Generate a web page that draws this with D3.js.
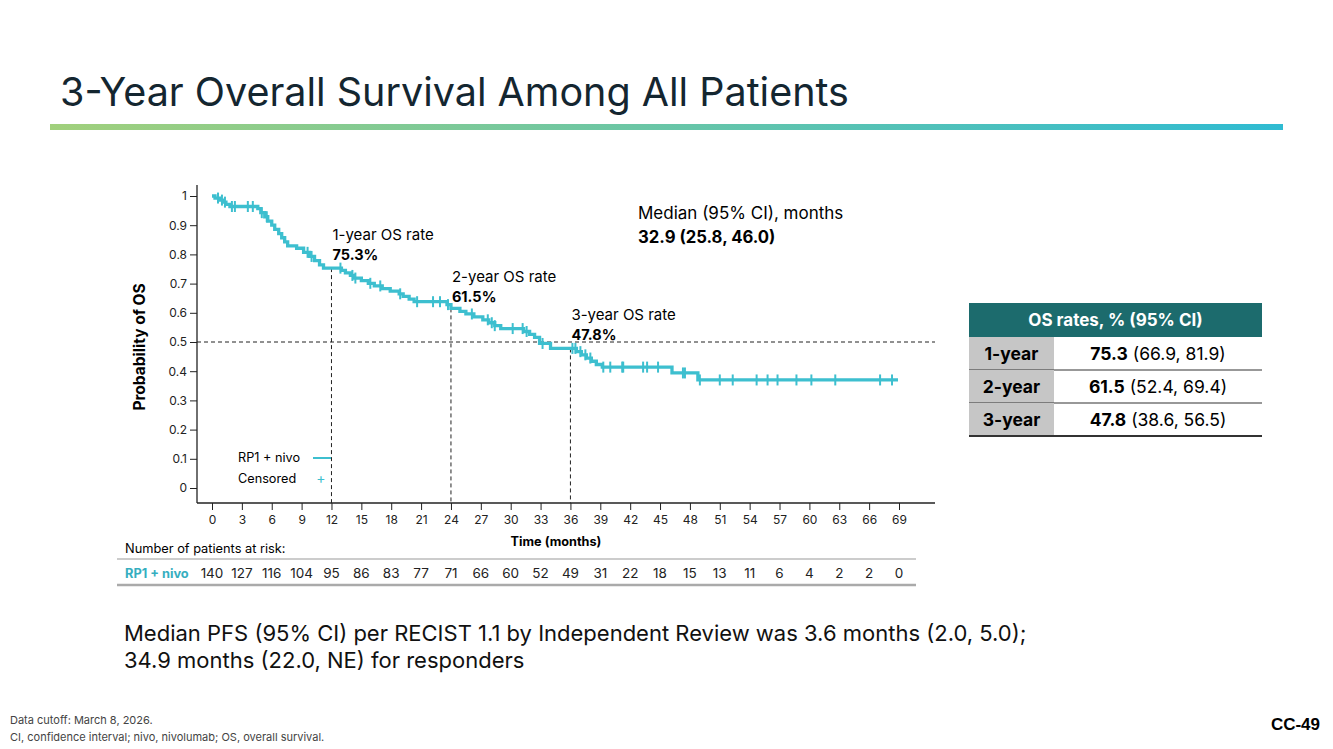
<!DOCTYPE html>
<html>
<head>
<meta charset="utf-8">
<script src="https://cdn.jsdelivr.net/npm/d3@7"></script>
<style>
  body { margin: 0; background: #fff; }
  svg text { font-family: Inter, "Noto Sans", sans-serif; }
</style>
</head>
<body>
<svg id="chart" width="1333" height="749"></svg>
<script>
// KM steps: month where it drops, survival after the drop
const kmTimes = [0, 0.3, 0.8, 1.1, 1.4, 1.8, 4.6, 4.9, 5.3, 5.6, 6.0, 6.3, 6.7, 7.0, 7.3, 7.6, 8.5, 9.2, 9.8, 10.3, 10.8, 11.2,
  13.0, 13.4, 13.9, 14.3, 15.0, 15.7, 16.3, 17.1, 17.9, 18.8, 19.2, 19.8, 20.3, 23.6, 24.0, 24.9, 25.5, 26.3, 27.2, 27.8, 28.4, 29.0,
  31.3, 31.9, 32.4, 32.9, 34.0, 36.6, 37.1, 37.6, 38.1, 38.6, 39.2, 46.2, 48.8]
const kmSurv = [1.0, 0.993, 0.986, 0.979, 0.971, 0.964, 0.957, 0.943, 0.929, 0.914, 0.900, 0.886, 0.871, 0.857, 0.843, 0.829, 0.821, 0.807, 0.793, 0.779, 0.764, 0.753,
  0.745, 0.737, 0.728, 0.719, 0.710, 0.701, 0.692, 0.683, 0.674, 0.665, 0.656, 0.647, 0.638, 0.628, 0.615, 0.605, 0.596, 0.586, 0.576, 0.566, 0.556, 0.546,
  0.536, 0.526, 0.516, 0.495, 0.478, 0.467, 0.456, 0.445, 0.434, 0.423, 0.414, 0.394, 0.370]
const lastTime = 68.9
const censorTimes = [0.6, 1.0, 1.3, 2.0, 2.3, 3.6, 4.1, 5.0, 5.5, 9.6, 10.0, 12.9, 14.1, 14.4, 15.9, 16.9, 18.9, 20.6, 22.2, 22.9, 23.7,
  26.1, 27.7, 28.1, 28.4, 30.2, 31.2, 31.6, 33.2, 36.2, 36.5, 37.0, 37.5, 38.0, 39.3, 40.0, 41.2, 41.3, 43.3, 43.7, 44.8, 47.3, 47.5,
  49.0, 51.0, 52.3, 54.7, 55.8, 56.8, 58.7, 60.2, 62.6, 67.1, 68.3]

const xTicks = d3.range(0, 70, 3)
const yTicks = [0, 0.1, 0.2, 0.3, 0.4, 0.5, 0.6, 0.7, 0.8, 0.9, 1]
const riskTimes = d3.range(0, 70, 3)
const riskCounts = [140, 127, 116, 104, 95, 86, 83, 77, 71, 66, 60, 52, 49, 31, 22, 18, 15, 13, 11, 6, 4, 2, 2, 0]

const milestoneMonths = [12, 24, 36]
const milestoneRates = [75.3, 61.5, 47.8]
const milestoneLabels = ["1-year OS rate", "2-year OS rate", "3-year OS rate"]

const tableRows = ["1-year", "2-year", "3-year"]
const tableRates = ["75.3", "61.5", "47.8"]
const tableCIs = ["(66.9, 81.9)", "(52.4, 69.4)", "(38.6, 56.5)"]

const curveColour = "#3dbfcf"
const svg = d3.select("#chart")

// title + gradient rule
svg.append("text").attr("x", 60).attr("y", 106)
  .style("font-size", "39.5px").style("fill", "#142630").text("3-Year Overall Survival Among All Patients")
const grad = svg.append("defs").append("linearGradient").attr("id", "rule")
grad.append("stop").attr("offset", "0%").attr("stop-color", "#a1d07c")
grad.append("stop").attr("offset", "100%").attr("stop-color", "#2fbbd2")
svg.append("rect").attr("x", 50).attr("y", 124).attr("width", 1233).attr("height", 6).attr("fill", "url(#rule)")

const x = d3.scaleLinear().domain([0, 69]).range([212, 899])
const y = d3.scaleLinear().domain([0, 1]).range([488, 196])

const g = svg.append("g")

// axes
const yAxis = g.append("g").attr("transform", "translate(197,0)")
  .call(d3.axisLeft(y).tickValues(yTicks).tickSize(7).tickFormat(d => String(d)))
const xAxis = g.append("g").attr("transform", "translate(0,503)")
  .call(d3.axisBottom(x).tickValues(xTicks).tickSize(7).tickPadding(5))
yAxis.select(".domain").remove()
xAxis.select(".domain").remove()
g.selectAll(".tick text").style("font-size", "12px").style("fill", "#222").style("font-family", "Inter, sans-serif")
g.selectAll(".tick line").attr("stroke", "#222")
g.append("line").attr("x1", 197).attr("x2", 197).attr("y1", 185).attr("y2", 503).attr("stroke", "#222").attr("stroke-width", 1.3)
g.append("line").attr("x1", 197).attr("x2", 935).attr("y1", 503).attr("y2", 503).attr("stroke", "#222").attr("stroke-width", 1.3)

g.append("text").attr("transform", "translate(145,347) rotate(-90)").attr("text-anchor", "middle")
  .style("font-size", "15.5px").style("font-weight", "bold").text("Probability of OS")
g.append("text").attr("x", 556).attr("y", 546).attr("text-anchor", "middle")
  .style("font-size", "12.7px").style("font-weight", "bold").text("Time (months)")

// reference lines
g.append("line").attr("x1", 197).attr("x2", 935).attr("y1", y(0.5)).attr("y2", y(0.5))
  .attr("stroke", "#222").attr("stroke-dasharray", "4,3")
g.selectAll(".mline").data(milestoneMonths).join("line")
  .attr("x1", d => x(d)).attr("x2", d => x(d))
  .attr("y1", (d, i) => y(milestoneRates[i] / 100)).attr("y2", 503)
  .attr("stroke", "#222").attr("stroke-dasharray", "4,3")

// KM curve
const steps = kmTimes.map((t, i) => [t, kmSurv[i]])
steps.push([lastTime, kmSurv[kmSurv.length - 1]])
g.append("path").datum(steps)
  .attr("d", d3.line().x(d => x(d[0])).y(d => y(d[1])).curve(d3.curveStepAfter))
  .attr("fill", "none").attr("stroke", curveColour).attr("stroke-width", 3.3)

const survAt = t => kmSurv[d3.bisectRight(kmTimes, t) - 1]
g.selectAll(".cens").data(censorTimes).join("line")
  .attr("x1", d => x(d)).attr("x2", d => x(d))
  .attr("y1", d => y(survAt(d)) - 5.5).attr("y2", d => y(survAt(d)) + 5.5)
  .attr("stroke", curveColour).attr("stroke-width", 2)

// milestone annotations
milestoneMonths.forEach((m, i) => {
  const lx = x(m) + 1, ly = y(milestoneRates[i] / 100) - 29
  g.append("text").attr("x", lx).attr("y", ly + (i === 1 ? 3 : 1)).style("font-size", "15px").text(milestoneLabels[i])
  g.append("text").attr("x", lx).attr("y", ly + (i === 1 ? 23 : 21)).style("font-size", "14.5px").style("font-weight", "bold")
    .text(milestoneRates[i].toFixed(1) + "%")
})

g.append("text").attr("x", 638).attr("y", 219).style("font-size", "17px").text("Median (95% CI), months")
g.append("text").attr("x", 638).attr("y", 243).style("font-size", "16.7px").style("font-weight", "bold").text("32.9 (25.8, 46.0)")

// legend
g.append("text").attr("x", 238).attr("y", 462).style("font-size", "12.7px").text("RP1 + nivo")
g.append("line").attr("x1", 313).attr("x2", 331).attr("y1", 458).attr("y2", 458).attr("stroke", curveColour).attr("stroke-width", 2)
g.append("text").attr("x", 238).attr("y", 483).style("font-size", "12.7px").text("Censored")
g.append("text").attr("x", 321).attr("y", 483).attr("text-anchor", "middle").style("font-size", "14px").style("fill", curveColour).text("+")

// risk table
g.append("text").attr("x", 125).attr("y", 553).style("font-size", "12.8px").text("Number of patients at risk:")
g.append("line").attr("x1", 117).attr("x2", 916).attr("y1", 559).attr("y2", 559).attr("stroke", "#999").attr("stroke-width", 1)
g.append("line").attr("x1", 117).attr("x2", 916).attr("y1", 585).attr("y2", 585).attr("stroke", "#aaa").attr("stroke-width", 2.5)
g.append("text").attr("x", 125).attr("y", 578).style("font-size", "12.8px").style("font-weight", "bold")
  .style("fill", "#35aebf").text("RP1 + nivo")
g.selectAll(".risk").data(riskCounts).join("text")
  .attr("x", (d, i) => x(riskTimes[i])).attr("y", 578).attr("text-anchor", "middle")
  .style("font-size", "13.5px").style("fill", "#222").text(d => d)

// OS rates table
const tx = 969, tw = 293, tl = 85, rowH = 33
const tab = svg.append("g")
tab.append("rect").attr("x", tx).attr("y", 303).attr("width", tw).attr("height", 34).attr("fill", "#1c6b6d")
tab.append("text").attr("x", tx + tw / 2).attr("y", 326).attr("text-anchor", "middle")
  .style("font-size", "17px").style("font-weight", "bold").style("fill", "#fff").text("OS rates, % (95% CI)")
tableRows.forEach((r, i) => {
  const ry = 337 + i * rowH
  tab.append("rect").attr("x", tx).attr("y", ry).attr("width", tl).attr("height", rowH).attr("fill", "#c6c6c6")
  tab.append("text").attr("x", tx + tl / 2).attr("y", ry + 22.5).attr("text-anchor", "middle")
    .style("font-size", "17.5px").style("font-weight", "bold").text(r)
  const t = tab.append("text").attr("x", tx + tl + (tw - tl) / 2).attr("y", ry + 22.5).attr("text-anchor", "middle").style("font-size", "17.5px")
  t.append("tspan").style("font-weight", "bold").text(tableRates[i])
  t.append("tspan").text(" " + tableCIs[i])
  tab.append("line").attr("x1", tx).attr("x2", tx + tw).attr("y1", ry + rowH).attr("y2", ry + rowH)
    .attr("stroke", "#333").attr("stroke-width", i === tableRows.length - 1 ? 2 : 1.2)
})

// bottom text
svg.append("text").attr("x", 124).attr("y", 641).style("font-size", "22px").style("fill", "#111")
  .text("Median PFS (95% CI) per RECIST 1.1 by Independent Review was 3.6 months (2.0, 5.0);")
svg.append("text").attr("x", 124).attr("y", 668).style("font-size", "22px").style("fill", "#111")
  .text("34.9 months (22.0, NE) for responders")

svg.append("text").attr("x", 10).attr("y", 724).style("font-size", "11px").style("fill", "#444").text("Data cutoff: March 8, 2026.")
svg.append("text").attr("x", 10).attr("y", 741).style("font-size", "11px").style("fill", "#444").text("CI, confidence interval; nivo, nivolumab; OS, overall survival.")
svg.append("text").attr("x", 1320).attr("y", 730).attr("text-anchor", "end").style("font-size", "17px").style("font-weight", "bold")
  .style("font-family", "'Liberation Sans', Arial, sans-serif").text("CC-49")
</script>
</body>
</html>
